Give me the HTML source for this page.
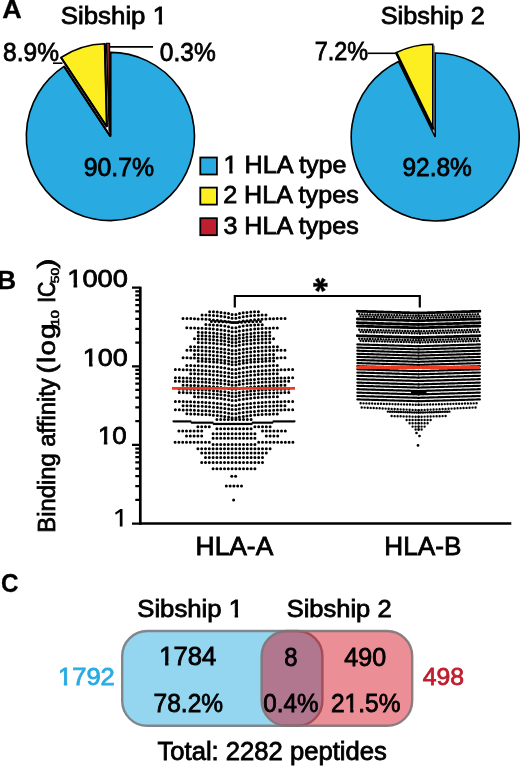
<!DOCTYPE html>
<html><head><meta charset="utf-8"><title>Figure</title>
<style>html,body{margin:0;padding:0;background:#fff;}body{width:520px;height:767px;overflow:hidden;font-family:"Liberation Sans", sans-serif;}</style>
</head><body>
<svg width="520" height="767" viewBox="0 0 520 767" font-family='"Liberation Sans", sans-serif' style="display:block;will-change:transform">
<rect width="520" height="767" fill="#fff"/>
<path d="M110.40,136.50 L110.40,52.40 A84.1,84.1 0 1 1 64.01,66.35 Z" fill="#29ABE2" stroke="#000" stroke-width="1.6" stroke-linejoin="miter" stroke-miterlimit="3"/>
<path d="M106.90,126.90 L61.00,57.50 A83.2,83.2 0 0 1 104.81,43.73 Z" fill="#FCEE21" stroke="#000" stroke-width="1.6" stroke-linejoin="miter" stroke-miterlimit="3"/>
<path d="M110.40,136.50 L64.01,66.35 M110.40,136.50 L110.40,52.40 M106.90,126.90 L61.00,57.50 M106.90,126.90 L104.81,43.73" stroke="#000" stroke-width="2.1" fill="none" stroke-linecap="butt"/>
<path d="M109.2,131.5 L106.5,43.4 L109.5,43.4 Z" fill="#B0303A" stroke="#000" stroke-width="1.4" stroke-linejoin="miter" stroke-miterlimit="3"/>
<path d="M109.6,46.9 H153" stroke="#000" stroke-width="1.6" fill="none"/>
<path d="M53,63.2 H62.5" stroke="#000" stroke-width="1.6" fill="none"/>
<path d="M435.20,137.00 L435.20,53.00 A84.0,84.0 0 1 1 398.48,61.45 Z" fill="#29ABE2" stroke="#000" stroke-width="1.6" stroke-linejoin="miter" stroke-miterlimit="3"/>
<path d="M432.80,128.60 L395.95,52.78 A84.3,84.3 0 0 1 432.80,44.30 Z" fill="#FCEE21" stroke="#000" stroke-width="1.6" stroke-linejoin="miter" stroke-miterlimit="3"/>
<path d="M434.0,45.5 L434.05,131" stroke="#3a3a3a" stroke-width="1.1" fill="none"/>
<path d="M396.40,52.98  L433.40,129.50" stroke="#000" stroke-width="2.6" fill="none"/>
<path d="M367.7,53.3 H395.5" stroke="#000" stroke-width="1.6" fill="none"/>
<rect x="200.3" y="157.5" width="16.6" height="17" fill="#29ABE2" stroke="#000" stroke-width="1.8"/>
<rect x="200.3" y="187.60000000000002" width="16.6" height="17" fill="#FCEE21" stroke="#000" stroke-width="1.8"/>
<rect x="200.3" y="218.20000000000002" width="16.6" height="17" fill="#BE1E2D" stroke="#000" stroke-width="1.8"/>
<path d="M140.3,286.70 V524.80" stroke="#000" stroke-width="2.7" fill="none"/>
<path d="M139.20000000000002,523.50 H511.3" stroke="#000" stroke-width="2.6" fill="none"/>
<path d="M132,523.50 H140.3 M135.3,499.84 H140.3 M135.3,486.00 H140.3 M135.3,476.18 H140.3 M135.3,468.56 H140.3 M135.3,462.34 H140.3 M135.3,457.08 H140.3 M135.3,452.52 H140.3 M135.3,448.50 H140.3 M132,444.90 H140.3 M135.3,421.24 H140.3 M135.3,407.40 H140.3 M135.3,397.58 H140.3 M135.3,389.96 H140.3 M135.3,383.74 H140.3 M135.3,378.48 H140.3 M135.3,373.92 H140.3 M135.3,369.90 H140.3 M132,366.30 H140.3 M135.3,342.64 H140.3 M135.3,328.80 H140.3 M135.3,318.98 H140.3 M135.3,311.36 H140.3 M135.3,305.14 H140.3 M135.3,299.88 H140.3 M135.3,295.32 H140.3 M135.3,291.30 H140.3 M132,287.70 H140.3" stroke="#000" stroke-width="2.25" fill="none"/>
<path d="M122.5,509 L122.5,526.6 L119.8,526.6 L119.8,512.0 L115.9,514.7 L115.0,512.7 L120.3,509 Z" fill="#000"/>
<path d="M234.8,307.5 V296 H419.8 V307.5" stroke="#000" stroke-width="2.2" fill="none"/>
<path d="M320.40,285.80 L327.30,286.80 L327.30,283.00 L320.40,284.00Z M319.62,285.35 L322.20,291.83 L325.50,289.93 L321.18,284.45Z M319.62,284.45 L315.30,289.93 L318.60,291.83 L321.18,285.35Z M320.40,284.00 L313.50,283.00 L313.50,286.80 L320.40,285.80Z M321.18,284.45 L318.60,277.97 L315.30,279.87 L319.62,285.35Z M321.18,285.35 L325.50,279.87 L322.20,277.97 L319.62,284.45Z" fill="#000" stroke="#000" stroke-width="0.4"/>
<circle cx="320.4" cy="284.9" r="1.8" fill="#000"/>
<g fill="none" stroke="#000" stroke-linecap="round">
<path d="M232.10,314.50 Q224.76,312.03 207.60,311.60" stroke-dasharray="0 3.8" stroke-width="3.0"/><path d="M235.90,314.50 Q242.93,312.08 259.50,311.66" stroke-dasharray="0 3.8" stroke-width="3.0"/>
<path d="M232.10,318.30 Q222.10,315.43 200.00,314.92" stroke-dasharray="0 3.8" stroke-width="3.0"/><path d="M235.90,318.30 Q245.90,315.43 268.00,314.92" stroke-dasharray="0 3.8" stroke-width="3.0"/>
<path d="M232.10,322.40 Q215.66,319.00 181.60,318.40" stroke-dasharray="0 3.8" stroke-width="3.0"/><path d="M235.90,322.40 Q252.03,319.00 285.50,318.40" stroke-dasharray="0 3.8" stroke-width="3.0"/>
<path d="M232.10,327.70 Q223.50,325.03 204.00,324.56" stroke-dasharray="0 3.8" stroke-width="3.0"/><path d="M235.90,327.70 Q244.15,325.09 263.00,324.63" stroke-dasharray="0 3.8" stroke-width="3.0"/>
<path d="M232.10,331.80 Q217.20,328.40 186.00,327.80" stroke-dasharray="0 3.8" stroke-width="3.0"/><path d="M235.90,331.80 Q250.45,328.40 281.00,327.80" stroke-dasharray="0 3.8" stroke-width="3.0"/>
<path d="M232.10,335.90 Q220.21,332.76 194.60,332.21" stroke-dasharray="0 3.8" stroke-width="3.0"/><path d="M235.90,335.90 Q247.47,332.80 272.50,332.26" stroke-dasharray="0 3.8" stroke-width="3.0"/>
<path d="M232.10,339.20 Q220.70,336.13 196.00,335.59" stroke-dasharray="0 3.8" stroke-width="3.0"/><path d="M235.90,339.20 Q246.95,336.18 271.00,335.64" stroke-dasharray="0 3.8" stroke-width="3.0"/>
<path d="M232.10,342.60 Q219.19,339.32 191.70,338.75" stroke-dasharray="0 3.8" stroke-width="3.0"/><path d="M235.90,342.60 Q248.49,339.37 275.40,338.80" stroke-dasharray="0 3.8" stroke-width="3.0"/>
<path d="M232.10,346.10 Q220.70,343.03 196.00,342.49" stroke-dasharray="0 3.8" stroke-width="3.0"/><path d="M235.90,346.10 Q246.95,343.08 271.00,342.54" stroke-dasharray="0 3.8" stroke-width="3.0"/>
<path d="M232.10,350.60 Q218.60,347.25 190.00,346.65" stroke-dasharray="0 3.8" stroke-width="3.0"/><path d="M235.90,350.60 Q249.40,347.25 278.00,346.65" stroke-dasharray="0 3.8" stroke-width="3.0"/>
<path d="M232.10,354.10 Q216.15,350.70 183.00,350.10" stroke-dasharray="0 3.8" stroke-width="3.0"/><path d="M235.90,354.10 Q252.55,350.70 287.00,350.10" stroke-dasharray="0 3.8" stroke-width="3.0"/>
<path d="M232.10,358.20 Q219.19,354.92 191.70,354.35" stroke-dasharray="0 3.8" stroke-width="3.0"/><path d="M235.90,358.20 Q248.49,354.97 275.40,354.40" stroke-dasharray="0 3.8" stroke-width="3.0"/>
<path d="M232.10,361.70 Q215.10,358.30 180.00,357.70" stroke-dasharray="0 3.8" stroke-width="3.0"/><path d="M235.90,361.70 Q252.55,358.30 287.00,357.70" stroke-dasharray="0 3.8" stroke-width="3.0"/>
<path d="M232.10,364.70 Q220.70,361.63 196.00,361.09" stroke-dasharray="0 3.8" stroke-width="3.0"/><path d="M235.90,364.70 Q248.00,361.53 274.00,360.97" stroke-dasharray="0 3.8" stroke-width="3.0"/>
<path d="M232.10,369.40 Q217.20,366.00 186.00,365.40" stroke-dasharray="0 3.8" stroke-width="3.0"/><path d="M235.90,369.40 Q250.45,366.00 281.00,365.40" stroke-dasharray="0 3.8" stroke-width="3.0"/>
<path d="M232.10,373.50 Q213.14,370.10 174.40,369.50" stroke-dasharray="0 3.8" stroke-width="3.0"/><path d="M235.90,373.50 Q255.00,370.10 294.00,369.50" stroke-dasharray="0 3.8" stroke-width="3.0"/>
<path d="M232.10,377.60 Q217.55,374.20 187.00,373.60" stroke-dasharray="0 3.8" stroke-width="3.0"/><path d="M235.90,377.60 Q250.45,374.20 281.00,373.60" stroke-dasharray="0 3.8" stroke-width="3.0"/>
<path d="M232.10,381.70 Q212.65,378.30 173.00,377.70" stroke-dasharray="0 3.8" stroke-width="3.0"/><path d="M235.90,381.70 Q255.00,378.30 294.00,377.70" stroke-dasharray="0 3.8" stroke-width="3.0"/>
<path d="M232.10,385.20 Q213.14,381.80 174.40,381.20" stroke-dasharray="0 3.8" stroke-width="3.0"/><path d="M235.90,385.20 Q254.54,381.80 292.70,381.20" stroke-dasharray="0 3.8" stroke-width="3.0"/>
<path d="M232.10,389.20 Q215.10,385.80 180.00,385.20" stroke-dasharray="0 3.8" stroke-width="3.0"/><path d="M235.90,389.20 Q252.90,385.80 288.00,385.20" stroke-dasharray="0 3.8" stroke-width="3.0"/>
<path d="M232.10,393.00 Q213.70,389.60 176.00,389.00" stroke-dasharray="0 3.8" stroke-width="3.0"/><path d="M235.90,393.00 Q254.30,389.60 292.00,389.00" stroke-dasharray="0 3.8" stroke-width="3.0"/>
<path d="M232.10,396.40 Q213.63,393.00 175.80,392.40" stroke-dasharray="0 3.8" stroke-width="3.0"/><path d="M235.90,396.40 Q254.12,393.00 291.50,392.40" stroke-dasharray="0 3.8" stroke-width="3.0"/>
<path d="M232.10,400.60 Q218.81,397.27 190.60,396.69" stroke-dasharray="0 3.8" stroke-width="3.0"/><path d="M235.90,400.60 Q249.40,397.25 278.00,396.65" stroke-dasharray="0 3.8" stroke-width="3.0"/>
<path d="M232.10,405.40 Q213.00,402.00 174.00,401.40" stroke-dasharray="0 3.8" stroke-width="3.0"/><path d="M235.90,405.40 Q254.65,402.00 293.00,401.40" stroke-dasharray="0 3.8" stroke-width="3.0"/>
<path d="M232.10,409.60 Q215.03,406.20 179.80,405.60" stroke-dasharray="0 3.8" stroke-width="3.0"/><path d="M235.90,409.60 Q252.72,406.20 287.50,405.60" stroke-dasharray="0 3.8" stroke-width="3.0"/>
<path d="M232.10,413.70 Q213.00,410.30 174.00,409.70" stroke-dasharray="0 3.8" stroke-width="3.0"/><path d="M235.90,413.70 Q254.65,410.30 293.00,409.70" stroke-dasharray="0 3.8" stroke-width="3.0"/>
<path d="M232.10,417.80 Q216.85,414.40 185.00,413.80" stroke-dasharray="0 3.8" stroke-width="3.0"/><path d="M235.90,417.80 Q250.38,414.40 280.80,413.80" stroke-dasharray="0 3.8" stroke-width="3.0"/>
<path d="M173.55,421.30 H190.46" stroke-dasharray="0 1.3" stroke-width="2.3"/>
<path d="M191.75,422.70 H212.56" stroke-dasharray="0 1.3" stroke-width="2.3"/>
<path d="M213.85,424.00 H251.56" stroke-dasharray="0 1.3" stroke-width="2.3"/>
<path d="M252.85,422.70 H272.36" stroke-dasharray="0 1.3" stroke-width="2.3"/>
<path d="M273.65,421.30 H294.46" stroke-dasharray="0 1.3" stroke-width="2.3"/>
<path d="M216.90,419.60 H251.11" stroke-dasharray="0 3.8" stroke-width="3.0"/>
<path d="M197.90,426.70 H209.31" stroke-dasharray="0 3.8" stroke-width="3.0"/>
<path d="M216.90,428.80 H251.11" stroke-dasharray="0 3.8" stroke-width="3.0"/>
<path d="M254.90,426.70 H270.11" stroke-dasharray="0 3.8" stroke-width="3.0"/>
<path d="M178.90,431.00 H201.71" stroke-dasharray="0 3.8" stroke-width="3.0"/>
<path d="M213.10,433.70 H254.91" stroke-dasharray="0 3.8" stroke-width="3.0"/>
<path d="M262.50,431.00 H285.31" stroke-dasharray="0 3.8" stroke-width="3.0"/>
<path d="M186.50,436.10 H201.71" stroke-dasharray="0 3.8" stroke-width="3.0"/>
<path d="M213.10,438.30 H254.91" stroke-dasharray="0 3.8" stroke-width="3.0"/>
<path d="M266.30,436.10 H277.71" stroke-dasharray="0 3.8" stroke-width="3.0"/>
<path d="M175.10,442.30 H209.31" stroke-dasharray="0 3.8" stroke-width="3.0"/>
<path d="M258.70,442.30 H292.91" stroke-dasharray="0 3.8" stroke-width="3.0"/>
<path d="M213.10,444.60 H254.91" stroke-dasharray="0 3.8" stroke-width="3.0"/>
<path d="M197.90,448.80 H270.11" stroke-dasharray="0 3.8" stroke-width="3.0"/>
<path d="M201.70,452.90 H266.31" stroke-dasharray="0 3.8" stroke-width="3.0"/>
<path d="M205.50,457.60 H262.51" stroke-dasharray="0 3.8" stroke-width="3.0"/>
<path d="M201.70,462.40 H262.51" stroke-dasharray="0 3.8" stroke-width="3.0"/>
<path d="M213.10,468.80 H254.91" stroke-dasharray="0 3.8" stroke-width="3.0"/>
<path d="M231.8,476.3 h0.01" stroke-width="3.0"/>
<path d="M235.6,476.3 h0.01" stroke-width="3.0"/>
<path d="M226.3,486 h0.01" stroke-width="3.0"/>
<path d="M230.1,486 h0.01" stroke-width="3.0"/>
<path d="M233.9,486 h0.01" stroke-width="3.0"/>
<path d="M237.7,486 h0.01" stroke-width="3.0"/>
<path d="M241.5,486 h0.01" stroke-width="3.0"/>
<path d="M233.6,499.9 h0.01" stroke-width="3.0"/>
<path d="M234.00,322.60 Q226.10,321.64 207.90,321.47" stroke-dasharray="0 3.8" stroke-width="3.0"/><path d="M237.80,322.60 Q245.70,321.64 263.90,321.47" stroke-dasharray="0 3.8" stroke-width="3.0"/>
</g>
<path d="M172,388.4 H295" stroke="#EA3A24" stroke-width="2.7"/>
<g fill="none" stroke="#000" stroke-linecap="round">
<path d="M418.60,313.10 L357.10,311.30" stroke-dasharray="0 1.25" stroke-width="2.9"/><path d="M418.60,313.10 L480.10,311.30" stroke-dasharray="0 1.25" stroke-width="2.9"/>
<path d="M418.60,315.80 L357.10,314.20" stroke-dasharray="0 2.7" stroke-width="2.4"/><path d="M418.60,315.80 L480.10,314.20" stroke-dasharray="0 2.7" stroke-width="2.4"/>
<path d="M419.95,317.90 L358.45,316.30" stroke-dasharray="0 2.7" stroke-width="2.4"/><path d="M419.95,317.90 L481.45,316.30" stroke-dasharray="0 2.7" stroke-width="2.4"/>
<path d="M418.60,320.80 L357.10,319.00" stroke-dasharray="0 1.25" stroke-width="2.9"/><path d="M418.60,320.80 L480.10,319.00" stroke-dasharray="0 1.25" stroke-width="2.9"/>
<path d="M418.60,324.60 L357.10,322.80" stroke-dasharray="0 1.25" stroke-width="2.9"/><path d="M418.60,324.60 L480.10,322.80" stroke-dasharray="0 1.25" stroke-width="2.9"/>
<path d="M418.60,327.90 L357.10,326.10" stroke-dasharray="0 1.25" stroke-width="2.9"/><path d="M418.60,327.90 L480.10,326.10" stroke-dasharray="0 1.25" stroke-width="2.9"/>
<path d="M418.60,331.30 L357.10,329.70" stroke-dasharray="0 2.7" stroke-width="2.4"/><path d="M418.60,331.30 L480.10,329.70" stroke-dasharray="0 2.7" stroke-width="2.4"/>
<path d="M419.95,333.40 L358.45,331.80" stroke-dasharray="0 2.7" stroke-width="2.4"/><path d="M419.95,333.40 L481.45,331.80" stroke-dasharray="0 2.7" stroke-width="2.4"/>
<path d="M418.60,337.60 L357.10,335.80" stroke-dasharray="0 1.25" stroke-width="2.9"/><path d="M418.60,337.60 L480.10,335.80" stroke-dasharray="0 1.25" stroke-width="2.9"/>
<path d="M418.60,340.30 L357.10,338.70" stroke-dasharray="0 2.7" stroke-width="2.4"/><path d="M418.60,340.30 L480.10,338.70" stroke-dasharray="0 2.7" stroke-width="2.4"/>
<path d="M419.95,342.40 L358.45,340.80" stroke-dasharray="0 2.7" stroke-width="2.4"/><path d="M419.95,342.40 L481.45,340.80" stroke-dasharray="0 2.7" stroke-width="2.4"/>
<path d="M418.60,346.20 L357.10,344.40" stroke-dasharray="0 1.25" stroke-width="2.25"/><path d="M418.60,346.20 L480.10,344.40" stroke-dasharray="0 1.25" stroke-width="2.25"/>
<path d="M418.60,349.40 L357.10,347.60" stroke-dasharray="0 1.25" stroke-width="2.25"/><path d="M418.60,349.40 L480.10,347.60" stroke-dasharray="0 1.25" stroke-width="2.25"/>
<path d="M418.60,352.50 L357.10,350.70" stroke-dasharray="0 1.25" stroke-width="2.25"/><path d="M418.60,352.50 L480.10,350.70" stroke-dasharray="0 1.25" stroke-width="2.25"/>
<path d="M418.60,355.60 L357.10,353.80" stroke-dasharray="0 1.25" stroke-width="2.25"/><path d="M418.60,355.60 L480.10,353.80" stroke-dasharray="0 1.25" stroke-width="2.25"/>
<path d="M418.60,358.70 L357.10,356.90" stroke-dasharray="0 1.25" stroke-width="2.25"/><path d="M418.60,358.70 L480.10,356.90" stroke-dasharray="0 1.25" stroke-width="2.25"/>
<path d="M418.60,361.80 L357.10,360.00" stroke-dasharray="0 1.25" stroke-width="2.25"/><path d="M418.60,361.80 L480.10,360.00" stroke-dasharray="0 1.25" stroke-width="2.25"/>
<path d="M418.60,364.90 L357.10,363.10" stroke-dasharray="0 1.25" stroke-width="2.25"/><path d="M418.60,364.90 L480.10,363.10" stroke-dasharray="0 1.25" stroke-width="2.25"/>
<path d="M418.60,368.00 L357.10,366.20" stroke-dasharray="0 1.25" stroke-width="2.25"/><path d="M418.60,368.00 L480.10,366.20" stroke-dasharray="0 1.25" stroke-width="2.25"/>
<path d="M418.60,371.10 L357.10,369.30" stroke-dasharray="0 1.25" stroke-width="2.25"/><path d="M418.60,371.10 L480.10,369.30" stroke-dasharray="0 1.25" stroke-width="2.25"/>
<path d="M418.60,374.30 L357.10,372.50" stroke-dasharray="0 1.25" stroke-width="2.25"/><path d="M418.60,374.30 L480.10,372.50" stroke-dasharray="0 1.25" stroke-width="2.25"/>
<path d="M418.60,377.60 L357.10,375.80" stroke-dasharray="0 1.25" stroke-width="2.25"/><path d="M418.60,377.60 L480.10,375.80" stroke-dasharray="0 1.25" stroke-width="2.25"/>
<path d="M418.60,381.00 L357.10,379.20" stroke-dasharray="0 1.25" stroke-width="2.25"/><path d="M418.60,381.00 L480.10,379.20" stroke-dasharray="0 1.25" stroke-width="2.25"/>
<path d="M418.60,384.40 L357.10,382.60" stroke-dasharray="0 1.25" stroke-width="2.25"/><path d="M418.60,384.40 L480.10,382.60" stroke-dasharray="0 1.25" stroke-width="2.25"/>
<path d="M418.60,387.60 L357.10,385.80" stroke-dasharray="0 1.25" stroke-width="2.25"/><path d="M418.60,387.60 L480.10,385.80" stroke-dasharray="0 1.25" stroke-width="2.25"/>
<path d="M418.60,391.00 L357.10,389.20" stroke-dasharray="0 1.25" stroke-width="2.25"/><path d="M418.60,391.00 L480.10,389.20" stroke-dasharray="0 1.25" stroke-width="2.25"/>
<path d="M418.60,394.40 L357.10,392.60" stroke-dasharray="0 1.25" stroke-width="2.25"/><path d="M418.60,394.40 L480.10,392.60" stroke-dasharray="0 1.25" stroke-width="2.25"/>
<path d="M418.60,397.80 L357.10,396.00" stroke-dasharray="0 1.25" stroke-width="2.25"/><path d="M418.60,397.80 L480.10,396.00" stroke-dasharray="0 1.25" stroke-width="2.25"/>
<path d="M418.60,401.20 L357.10,399.40" stroke-dasharray="0 1.25" stroke-width="2.25"/><path d="M418.60,401.20 L480.10,399.40" stroke-dasharray="0 1.25" stroke-width="2.25"/>
<path d="M418.60,404.80 L358.10,403.20" stroke-dasharray="0 2.9" stroke-width="2.4"/><path d="M418.60,404.80 L478.60,403.20" stroke-dasharray="0 2.9" stroke-width="2.4"/>
<path d="M418.60,410.20 L360.60,407.40" stroke-dasharray="0 3.0" stroke-width="2.4"/><path d="M418.60,410.20 L476.60,407.40" stroke-dasharray="0 3.0" stroke-width="2.4"/>
<path d="M418.60,412.60 L387.60,411.60" stroke-dasharray="0 2.2" stroke-width="2.4"/><path d="M418.60,412.60 L451.10,411.60" stroke-dasharray="0 2.2" stroke-width="2.4"/>
<path d="M418.60,416.80 L390.10,416.00" stroke-dasharray="0 3.0" stroke-width="2.4"/><path d="M418.60,416.80 L445.60,416.00" stroke-dasharray="0 3.0" stroke-width="2.4"/>
<path d="M418.60,420.00 L404.10,420.00" stroke-dasharray="0 3.0" stroke-width="2.4"/><path d="M418.60,420.00 L431.10,420.00" stroke-dasharray="0 3.0" stroke-width="2.4"/>
<path d="M418.60,423.30 L406.60,423.30" stroke-dasharray="0 3.0" stroke-width="2.4"/><path d="M418.60,423.30 L429.60,423.30" stroke-dasharray="0 3.0" stroke-width="2.4"/>
<path d="M418.60,426.60 L410.60,426.60" stroke-dasharray="0 3.0" stroke-width="2.4"/><path d="M418.60,426.60 L427.60,426.60" stroke-dasharray="0 3.0" stroke-width="2.4"/>
<path d="M418.60,429.50 L413.60,429.50" stroke-dasharray="0 3.0" stroke-width="2.4"/><path d="M418.60,429.50 L422.60,429.50" stroke-dasharray="0 3.0" stroke-width="2.4"/>
<path d="M416.5,433 h0.01" stroke-width="2.7"/>
<path d="M419.5,436 h0.01" stroke-width="2.7"/>
<path d="M418,445.4 h0.01" stroke-width="2.7"/>
<path d="M411,392.6 H426.5" stroke-width="4.5" stroke-linecap="butt"/>
</g>
<path d="M356.5,367.3 H480" stroke="#EA3A24" stroke-width="3.2"/>
<rect x="122.2" y="631" width="200.2" height="94.8" rx="25" ry="25" fill="#29ABE2" fill-opacity="0.5" stroke="#7F868C" stroke-width="2.4"/>
<rect x="261.6" y="631" width="150.6" height="94.8" rx="25" ry="25" fill="#D50416" fill-opacity="0.45" stroke="#7F7478" stroke-opacity="0.9" stroke-width="2.4"/>
<text transform="translate(54.60,532.71) rotate(-90) scale(0.9686,1)" font-size="24.6" fill="#000" stroke="#000" stroke-width="0.8">Binding affinity</text>
<text transform="translate(54.60,373.45) rotate(-90) scale(1.1200,1)" font-size="24.6" letter-spacing="1.141" fill="#000" stroke="#000" stroke-width="0.8">(log</text>
<text transform="translate(58.90,326.30) rotate(-90) scale(1.4038,1)" font-size="10.4" fill="#000" stroke="#000" stroke-width="0.6">10</text>
<text transform="translate(54.60,302.81) rotate(-90) scale(0.8644,1)" font-size="24.6" fill="#000" stroke="#000" stroke-width="0.8">IC</text>
<text transform="translate(58.90,283.26) rotate(-90) scale(1.3378,1)" font-size="10.4" fill="#000" stroke="#000" stroke-width="0.6">50</text>
<text transform="translate(54.60,268.49) rotate(-90) scale(1.1882,1)" font-size="24.6" fill="#000" stroke="#000" stroke-width="0.8">)</text>
<defs><mask id="m1" maskUnits="userSpaceOnUse" x="-10" y="-29.52" width="141.20" height="41.82"><rect x="-10" y="-29.52" width="141.20" height="41.82" fill="#fff"/><rect x="87.95" y="-3.85" width="5.17" height="5.25" fill="#000"/><rect x="96.43" y="-3.85" width="4.92" height="5.25" fill="#000"/></mask><mask id="m2" maskUnits="userSpaceOnUse" x="-10" y="-29.76" width="162.69" height="42.16"><rect x="-10" y="-29.76" width="162.69" height="42.16" fill="#fff"/><rect x="0.44" y="-3.86" width="5.21" height="5.26" fill="#000"/><rect x="8.98" y="-3.86" width="4.96" height="5.26" fill="#000"/></mask><mask id="m3" maskUnits="userSpaceOnUse" x="-10" y="-29.52" width="94.73" height="41.82"><rect x="-10" y="-29.52" width="94.73" height="41.82" fill="#fff"/><rect x="0.43" y="-3.85" width="5.17" height="5.25" fill="#000"/><rect x="8.91" y="-3.85" width="4.92" height="5.25" fill="#000"/></mask><mask id="m4" maskUnits="userSpaceOnUse" x="-10" y="-29.52" width="81.04" height="41.82"><rect x="-10" y="-29.52" width="81.04" height="41.82" fill="#fff"/><rect x="0.43" y="-3.85" width="5.17" height="5.25" fill="#000"/><rect x="8.91" y="-3.85" width="4.92" height="5.25" fill="#000"/></mask><mask id="m5" maskUnits="userSpaceOnUse" x="-10" y="-29.52" width="67.36" height="41.82"><rect x="-10" y="-29.52" width="67.36" height="41.82" fill="#fff"/><rect x="0.43" y="-3.85" width="5.17" height="5.25" fill="#000"/><rect x="8.91" y="-3.85" width="4.92" height="5.25" fill="#000"/></mask><mask id="m6" maskUnits="userSpaceOnUse" x="-10" y="-29.52" width="141.20" height="41.82"><rect x="-10" y="-29.52" width="141.20" height="41.82" fill="#fff"/><rect x="87.95" y="-3.85" width="5.17" height="5.25" fill="#000"/><rect x="96.43" y="-3.85" width="4.92" height="5.25" fill="#000"/></mask><mask id="m7" maskUnits="userSpaceOnUse" x="-10" y="-29.52" width="94.73" height="41.82"><rect x="-10" y="-29.52" width="94.73" height="41.82" fill="#fff"/><rect x="0.43" y="-3.85" width="5.17" height="5.25" fill="#000"/><rect x="8.91" y="-3.85" width="4.92" height="5.25" fill="#000"/></mask><mask id="m8" maskUnits="userSpaceOnUse" x="-10" y="-30.24" width="96.06" height="42.84"><rect x="-10" y="-30.24" width="96.06" height="42.84" fill="#fff"/><rect x="0.46" y="-3.89" width="5.29" height="5.29" fill="#000"/><rect x="9.12" y="-3.89" width="5.04" height="5.29" fill="#000"/></mask><mask id="m9" maskUnits="userSpaceOnUse" x="-10" y="-30.24" width="111.45" height="42.84"><rect x="-10" y="-30.24" width="111.45" height="42.84" fill="#fff"/><rect x="14.48" y="-3.89" width="5.29" height="5.29" fill="#000"/><rect x="23.13" y="-3.89" width="5.04" height="5.29" fill="#000"/></mask></defs>
<text transform="translate(2.37,18.05) scale(1.0390,1)" font-size="26" font-weight="bold" fill="#000" stroke="#000" stroke-width="0.3">A</text>
<text transform="translate(60.74,23.80) scale(1.0513,1)" font-size="24.6" fill="#000" stroke="#000" stroke-width="0.8" mask="url(#m1)">Sibship 1</text>
<text transform="translate(3.10,61.10) scale(0.9423,1)" font-size="26" fill="#000" stroke="#000" stroke-width="0.8">8.9%</text>
<text transform="translate(159.82,61.10) scale(0.9437,1)" font-size="26" fill="#000" stroke="#000" stroke-width="0.8">0.3%</text>
<text transform="translate(83.68,175.90) scale(0.9828,1)" font-size="25.3" fill="#000" stroke="#000" stroke-width="0.8">90.7%</text>
<text transform="translate(223.51,173.20) scale(1.0144,1)" font-size="24.8" fill="#000" stroke="#000" stroke-width="0.8" mask="url(#m2)">1 HLA type</text>
<text transform="translate(223.14,202.80) scale(1.0141,1)" font-size="24.8" fill="#000" stroke="#000" stroke-width="0.8">2 HLA types</text>
<text transform="translate(223.40,234.10) scale(1.0122,1)" font-size="24.8" fill="#000" stroke="#000" stroke-width="0.8">3 HLA types</text>
<text transform="translate(380.76,23.80) scale(1.0284,1)" font-size="24.6" fill="#000" stroke="#000" stroke-width="0.8">Sibship 2</text>
<text transform="translate(314.63,60.20) scale(0.9024,1)" font-size="26" fill="#000" stroke="#000" stroke-width="0.8">7.2%</text>
<text transform="translate(402.40,176.00) scale(0.9684,1)" font-size="25.3" fill="#000" stroke="#000" stroke-width="0.8">92.8%</text>
<text transform="translate(-3.08,289.45) scale(1.0214,1)" font-size="26" font-weight="bold" fill="#000" stroke="#000" stroke-width="0.3">B</text>
<text transform="translate(67.31,286.90) scale(1.1067,1)" font-size="24.6" fill="#000" stroke="#000" stroke-width="0.8" mask="url(#m3)">1000</text>
<text transform="translate(82.84,365.60) scale(1.0964,1)" font-size="24.6" fill="#000" stroke="#000" stroke-width="0.8" mask="url(#m4)">100</text>
<text transform="translate(97.94,444.20) scale(1.0536,1)" font-size="24.6" fill="#000" stroke="#000" stroke-width="0.8" mask="url(#m5)">10</text>
<text transform="translate(195.59,554.60) scale(1.0545,1)" font-size="25" fill="#000" stroke="#000" stroke-width="0.8">HLA-A</text>
<text transform="translate(384.31,555.10) scale(1.0472,1)" font-size="25" fill="#000" stroke="#000" stroke-width="0.8">HLA-B</text>
<text transform="translate(0.88,591.85) scale(0.9336,1)" font-size="26" font-weight="bold" fill="#000" stroke="#000" stroke-width="0.3">C</text>
<text transform="translate(137.24,616.80) scale(1.0460,1)" font-size="24.6" fill="#000" stroke="#000" stroke-width="0.8" mask="url(#m6)">Sibship 1</text>
<text transform="translate(286.65,617.00) scale(1.0375,1)" font-size="24.6" fill="#000" stroke="#000" stroke-width="0.8">Sibship 2</text>
<text transform="translate(57.97,685.10) scale(1.0397,1)" font-size="24.6" fill="#29ABE2" stroke="#29ABE2" stroke-width="0.8" mask="url(#m7)">1792</text>
<text transform="translate(159.16,665.40) scale(1.0204,1)" font-size="25.2" fill="#000" stroke="#000" stroke-width="0.8" mask="url(#m8)">1784</text>
<text transform="translate(153.57,711.60) scale(0.9740,1)" font-size="25.2" fill="#000" stroke="#000" stroke-width="0.8">78.2%</text>
<text transform="translate(284.13,665.50) scale(0.9456,1)" font-size="25.2" fill="#000" stroke="#000" stroke-width="0.8">8</text>
<text transform="translate(344.37,665.50) scale(0.9939,1)" font-size="25.2" fill="#000" stroke="#000" stroke-width="0.8">490</text>
<text transform="translate(263.23,711.60) scale(0.9610,1)" font-size="25.2" fill="#000" stroke="#000" stroke-width="0.8">0.4%</text>
<text transform="translate(330.97,711.60) scale(0.9726,1)" font-size="25.2" fill="#000" stroke="#000" stroke-width="0.8" mask="url(#m9)">21.5%</text>
<text transform="translate(422.78,685.40) scale(1.0086,1)" font-size="24.6" fill="#BE1E2D" stroke="#BE1E2D" stroke-width="0.8">498</text>
<text transform="translate(157.46,760.20) scale(1.0177,1)" font-size="25.2" fill="#000" stroke="#000" stroke-width="0.8">Total: 2282 peptides</text>
</svg>
</body></html>
